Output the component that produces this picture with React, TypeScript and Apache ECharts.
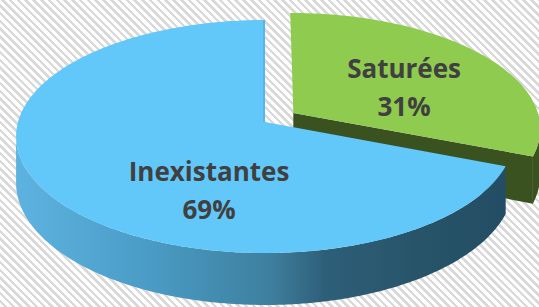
import React, { useEffect, useRef } from "react";
import * as echarts from "echarts";

// ---- data ----
const categories = ["Saturées", "Inexistantes"];
const values = [31, 69];
const explodeAmount = [0.14, 0];

// ---- styling / layout (not data) ----
const topColors = ["#8FCB4F", "#62C8FA"];
const sideColors = ["#3A5220", "#2E6A8A"];
const labelAnchors = [
  [0.585, -0.3127],
  [-0.211, 0.552],
];

const W = 539;
const H = 307;

export default function App() {
  const ref = useRef<HTMLDivElement>(null);

  useEffect(() => {
    if (!ref.current) return;
    const chart = echarts.init(ref.current, null, { renderer: "svg" });

    const P = 0.1245; // perspective strength
    const total = values.reduce((a, b) => a + b, 0);
    const starts: number[] = [];
    let acc = 0;
    values.forEach((v) => {
      starts.push(acc);
      acc += v;
    });

    const renderItem = (params: any, api: any) => {
      const idx = params.dataIndex;
      const val = api.value(1);
      const cw = api.getWidth();
      const ch = api.getHeight();
      const cx = cw * (265 / 539);
      const cy = ch * (122 / 307);
      const A = cw * (247 / 539);
      const B = ch * (114.7 / 307);
      const D = ch * (45.5 / 307);

      const proj = (u: number, v: number, h: number) => {
        const w = 1 / (1 - P * v);
        return [cx + A * u * w, cy + (B * v + D * h) * w];
      };

      const a0 = (starts[idx] / total) * Math.PI * 2;
      const a1 = a0 + (val / total) * Math.PI * 2;
      const mid = (a0 + a1) / 2;
      const e = explodeAmount[idx];
      const eu = e * Math.sin(mid);
      const ev = -e * Math.cos(mid);
      const rim = (t: number, h: number) =>
        proj(eu + Math.sin(t), ev - Math.cos(t), h);

      const steps = (from: number, to: number) => {
        const n = Math.max(2, Math.ceil(Math.abs(to - from) / (Math.PI / 180)));
        const arr: number[] = [];
        for (let i = 0; i <= n; i++) arr.push(from + ((to - from) * i) / n);
        return arr;
      };

      const children: any[] = [];
      const zBase = idx === 0 ? 0 : 10;

      // cut face at end angle (visible for slice ending on the right-front)
      if (a1 < Math.PI) {
        const pts = [
          proj(eu, ev, 0),
          rim(a1, 0),
          rim(a1, 1),
          proj(eu, ev, 1),
        ];
        children.push({
          type: "polygon",
          z2: zBase + 1,
          shape: { points: pts },
          style: { fill: sideColors[idx] },
        });
      }

      // outer wall, visible portion only
      const visMin = Math.acos(-P);
      const visMax = Math.PI * 2 - visMin;
      const w0 = Math.max(a0, visMin);
      const w1 = Math.min(a1, visMax);
      if (w1 > w0) {
        const ts = steps(w0, w1);
        const topPts = ts.map((t) => rim(t, 0));
        const botPts = ts.map((t) => rim(t, 1)).reverse();
        const fill =
          idx === 1
            ? new echarts.graphic.LinearGradient(0, 0, 1, 0, [
                { offset: 0, color: "#5DB3E0" },
                { offset: 0.27, color: "#4A9CC6" },
                { offset: 0.52, color: "#3E7F9E" },
                { offset: 0.63, color: "#2E5F79" },
                { offset: 0.82, color: "#275469" },
                { offset: 1, color: "#234D64" },
              ])
            : sideColors[idx];
        children.push({
          type: "polygon",
          z2: zBase + 2,
          shape: { points: topPts.concat(botPts) },
          style: { fill },
        });
      }

      // top surface
      const topShape = [proj(eu, ev, 0)].concat(steps(a0, a1).map((t) => rim(t, 0)));
      children.push({
        type: "polygon",
        z2: zBase + 3,
        shape: { points: topShape },
        style: { fill: topColors[idx] },
      });

      // slight edge shading along the vertical cut at the top
      if (idx === 1) {
        const p0 = proj(eu, ev, 0);
        const p1 = rim(Math.PI * 2, 0);
        children.push({
          type: "line",
          z2: zBase + 4,
          shape: { x1: p0[0] - 1, y1: p0[1], x2: p1[0] - 1, y2: p1[1] },
          style: { stroke: "#55B7E8", lineWidth: 2 },
        });
      }

      // label
      const la = labelAnchors[idx];
      const lp = proj(la[0], la[1], 0);
      children.push({
        type: "text",
        z2: 30,
        style: {
          text: categories[idx] + "\n" + Math.round((val / total) * 100) + "%",
          x: lp[0],
          y: lp[1],
          fill: "#404040",
          fontFamily: "Open Sans",
          fontWeight: "bold",
          fontSize: 26,
          lineHeight: 38,
          align: "center",
          verticalAlign: "middle",
        },
      });

      return { type: "group", children };
    };

    chart.setOption({
      animation: false,
      backgroundColor: "transparent",
      series: [
        {
          type: "custom",
          coordinateSystem: "none",
          renderItem,
          data: values.map((v, i) => [i, v]),
        },
      ],
    });

    return () => chart.dispose();
  }, []);

  return (
    <div
      style={{
        position: "absolute",
        left: 0,
        top: 0,
        width: W,
        height: H,
        background:
          "repeating-linear-gradient(45deg, #ffffff 0px, #ffffff 3px, #d9d9d9 3px, #d9d9d9 5.5px)",
      }}
    >
      <div ref={ref} style={{ width: W, height: H }} />
    </div>
  );
}
